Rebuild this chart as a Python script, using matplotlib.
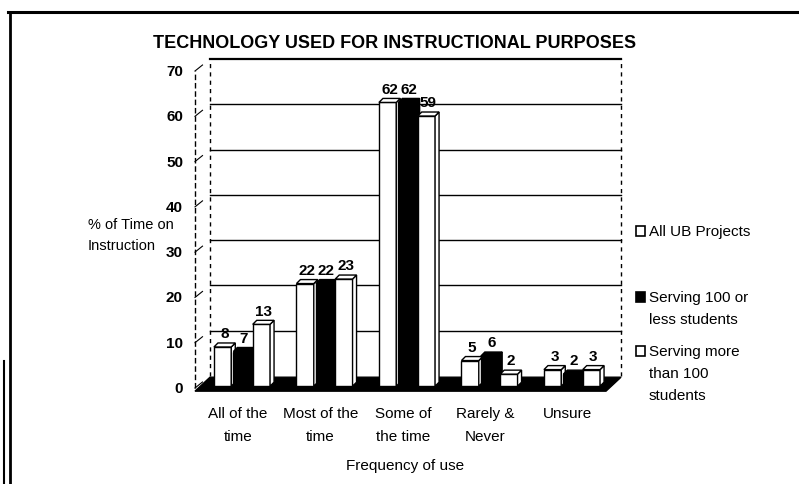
import matplotlib
matplotlib.use("Agg")
import matplotlib.pyplot as plt
from matplotlib.patches import Polygon, Rectangle
from matplotlib.lines import Line2D

plt.rcParams['font.family'] = ['Liberation Sans Narrow', 'Liberation Sans', 'DejaVu Sans']

# ---- data ----
categories = ["All of the\ntime", "Most of the\ntime", "Some of\nthe time", "Rarely &\nNever", "Unsure"]
series_names = ["All UB Projects", "Serving 100 or\nless students", "Serving more\nthan 100\nstudents"]
all_ub = [8, 22, 62, 5, 3]
serving_le100 = [7, 22, 62, 6, 2]
serving_gt100 = [13, 23, 59, 2, 3]
y_ticks = [0, 10, 20, 30, 40, 50, 60, 70]
title = "TECHNOLOGY USED FOR INSTRUCTIONAL PURPOSES"
ylabel_lines = ["% of Time on", "Instruction"]
xlabel = "Frequency of use"

W, H = 799, 485
fig = plt.figure(figsize=(W / 100, H / 100), dpi=100)
fig.patch.set_facecolor("white")

# axes in pixel layout
x_left, x_right = 195, 606
y_zero, y_top = 389, 72
ax = fig.add_axes([x_left / W, 1 - y_zero / H, (x_right - x_left) / W, (y_zero - y_top) / H])
xmin = -(242 - x_left) / 82.5
xmax = xmin + (x_right - x_left) / 82.5
ax.set_xlim(xmin, xmax)
ax.set_ylim(0, 70)
ax.axis("off")

sx = (x_right - x_left) / (xmax - xmin)
sy = (y_zero - y_top) / 70.0
DX, DY = 15 / sx, 12 / sy          # depth of the chart box
cdx, cdy = 4 / sx, 4 / sy          # depth of each bar

# floor
floor = Polygon([(xmin, -0.7), (xmax, -0.7), (xmax + DX, DY * 0.9), (xmin + DX, DY * 0.9)],
                closed=True, facecolor="black", edgecolor="black", lw=1, clip_on=False, zorder=1)
ax.add_patch(floor)

# back-wall gridlines
for v in y_ticks[1:]:
    lw = 1.6 if v == 70 else 1.0
    ax.plot([xmin + DX, xmax + DX], [v + DY, v + DY], color="black", lw=lw, clip_on=False, zorder=0)
# wall edges
ax.plot([xmin + DX, xmin + DX], [DY, 70 + DY], color="black", lw=1, ls=(0, (3, 3)), clip_on=False, zorder=0)
ax.plot([xmax + DX, xmax + DX], [DY, 70 + DY], color="black", lw=1, ls=(0, (3, 3)), clip_on=False, zorder=0)
ax.plot([xmin, xmin], [0, 70], color="black", lw=1, ls=(0, (4, 2)), clip_on=False, zorder=0)
for v in y_ticks:
    ax.plot([xmin, xmin + DX * 0.5], [v, v + DY * 0.5], color="black", lw=0.8, clip_on=False, zorder=0)
    ax.text(xmin - 12 / sx, v, str(v), ha="right", va="center", fontsize=11, fontweight="bold")

# bars
width = 0.21
offsets = [-0.235, 0.0, 0.235]
faces = ["white", "black", "white"]
base = DY * 0.15
lift = DY * 0.4
for s, (vals, fc) in enumerate(zip([all_ub, serving_le100, serving_gt100], faces)):
    for i, v in enumerate(vals):
        x0 = i + offsets[s] - width / 2
        x1 = x0 + width
        top = v + lift
        z = 3 + s
        ax.add_patch(Rectangle((x0, base), width, top - base, facecolor=fc, edgecolor="black",
                               lw=1, clip_on=False, zorder=z))
        ax.add_patch(Polygon([(x1, base), (x1 + cdx, base + cdy), (x1 + cdx, top + cdy), (x1, top)],
                             closed=True, facecolor=fc, edgecolor="black", lw=1, clip_on=False, zorder=z))
        ax.add_patch(Polygon([(x0, top), (x1, top), (x1 + cdx, top + cdy), (x0 + cdx, top + cdy)],
                             closed=True, facecolor=fc, edgecolor="black", lw=1, clip_on=False, zorder=z))
        ax.annotate(str(v), (x0 + width / 2 + cdx / 2, top + cdy), xytext=(0, 2), textcoords="offset points",
                    ha="center", va="bottom", fontsize=11, fontweight="bold", zorder=10)

# category labels
for i, c in enumerate(categories):
    ax.text(i - 0.05, -3.9, c, ha="center", va="top", fontsize=11, linespacing=1.85)

# titles
fig.text(395 / W, 1 - 44 / H, title, ha="center", va="center", fontsize=13, fontweight="bold")
fig.text(405 / W, 1 - 466 / H, xlabel, ha="center", va="center", fontsize=11)
for line, yy in zip(ylabel_lines, [225, 246]):
    fig.text(88 / W, 1 - yy / H, line, ha="left", va="center", fontsize=10.5)

# legend
leg_y = [232, 309, 374]
for name, fc, yy in zip(series_names, faces, leg_y):
    n = name.count("\n") + 1
    top_line = yy - (n - 1) * 11
    fig.add_artist(Rectangle((636 / W, 1 - (top_line + 5) / H), 9 / W, 10 / H, facecolor=fc,
                             edgecolor="black", lw=1.2, transform=fig.transFigure))
    fig.text(649 / W, 1 - yy / H, name, ha="left", va="center", fontsize=11, linespacing=1.75)

# page frame
fig.add_artist(Line2D([8 / W, 1], [1 - 13 / H, 1 - 13 / H], color="black", lw=2.2, transform=fig.transFigure))
fig.add_artist(Line2D([10 / W, 10 / W], [0, 1 - 13 / H], color="black", lw=2.0, transform=fig.transFigure))
fig.add_artist(Line2D([4 / W, 4 / W], [0, 1 - 362 / H], color="black", lw=1.5, transform=fig.transFigure))

fig.savefig("out.png", dpi=100, facecolor="white")
